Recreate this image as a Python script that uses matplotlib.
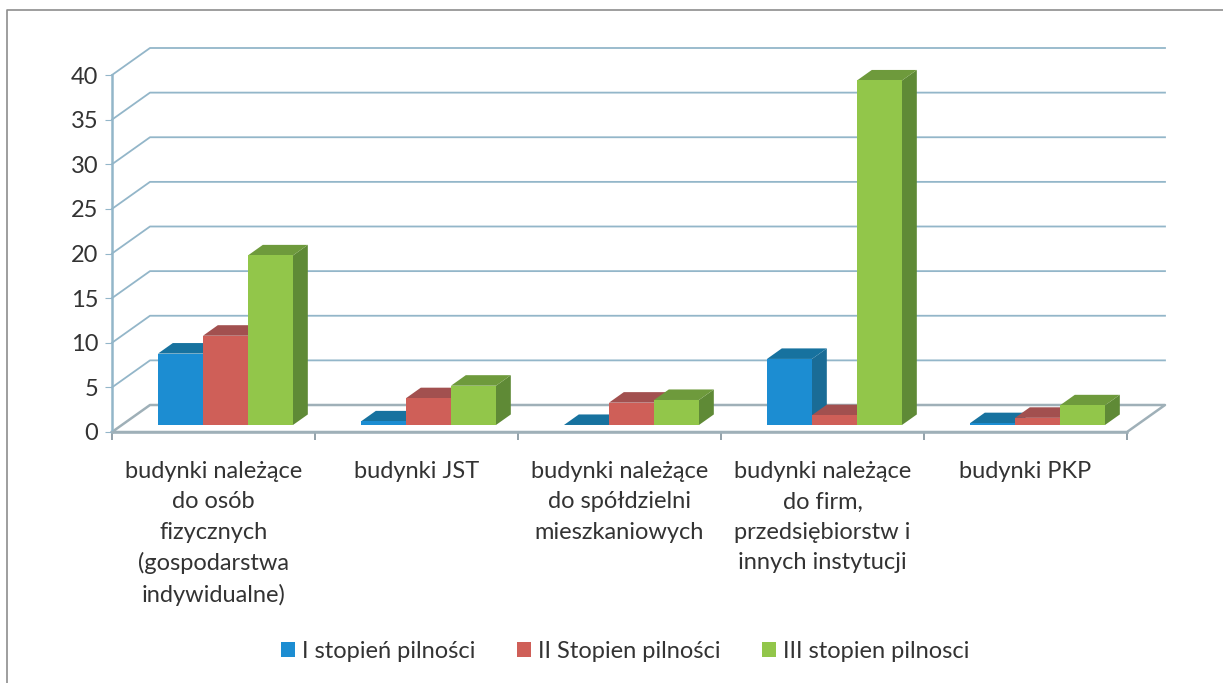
import matplotlib
matplotlib.use("Agg")
import matplotlib.pyplot as plt
from matplotlib.patches import Patch
from matplotlib.lines import Line2D

plt.rcParams['font.family'] = ['Lato', 'DejaVu Sans']

# dane
categories = ["budynki należące\ndo osób\nfizycznych\n(gospodarstwa\nindywidualne)",
              "budynki JST",
              "budynki należące\ndo spółdzielni\nmieszkaniowych",
              "budynki należące\ndo firm,\nprzedsiębiorstw i\ninnych instytucji",
              "budynki PKP"]
series_names = ["I stopień pilności", "II Stopien pilności", "III stopien pilnosci"]
stopien_1 = [8, 0.4, 0, 7.4, 0.2]
stopien_2 = [10, 3, 2.5, 1.1, 0.8]
stopien_3 = [19, 4.4, 2.8, 38.6, 2.2]
y_ticks = [0, 5, 10, 15, 20, 25, 30, 35, 40]

series = [stopien_1, stopien_2, stopien_3]
front = ['#1c8dd2', '#cf5f58', '#92c64a']
top = ['#17729f', '#a2504f', '#6e9a3c']
side = ['#1a6c96', '#8e4644', '#5f8a36']
grid_c = '#93b6c9'
floor_c = '#9fb0b8'

W, H = 1223, 683
fig = plt.figure(figsize=(W / 100, H / 100), dpi=100, facecolor='white')
ax = fig.add_axes([112 / W, (H - 432) / H, 1015 / W, 357 / H])
ax.set_xlim(0, 5)
ax.set_ylim(0, 40)
ax.patch.set_visible(False)

# ukosna glebia wykresu
DX = 38 / 203
DY = 27 / 8.925
BAR_W = 45 / 203
D_FRONT, D_BACK = 0.26, 0.65

# siatka tylnej sciany
for v in y_ticks[1:]:
    ax.plot([0, DX, 5 + DX], [v, v + DY, v + DY], color=grid_c, lw=1.3,
            clip_on=False, zorder=1)

# podloga
ax.plot([0, DX, 5 + DX, 5, 0], [0, DY, DY, 0, 0], color=floor_c, lw=1.8,
        clip_on=False, zorder=1)

# slupki
for i in range(len(categories)):
    x0 = i + 0.5 + 12 / 203 - 1.5 * BAR_W
    for j, vals in enumerate(series):
        h = vals[i]
        xl = x0 + j * BAR_W
        xr = xl + BAR_W
        yb = D_FRONT * DY
        yt = yb + h
        ddx = (D_BACK - D_FRONT) * DX
        ddy = (D_BACK - D_FRONT) * DY
        z = 3 + i * 3 + j
        ax.fill([xr, xr + ddx, xr + ddx, xr], [yb, yb + ddy, yt + ddy, yt],
                color=side[j], lw=0, clip_on=False, zorder=z)
        ax.fill([xl, xl + ddx, xr + ddx, xr], [yt, yt + ddy, yt + ddy, yt],
                color=top[j], lw=0, clip_on=False, zorder=z)
        ax.bar(xl + BAR_W / 2, h, BAR_W, bottom=yb, color=front[j], lw=0,
               clip_on=False, zorder=z)

# osie
for s in ['top', 'right']:
    ax.spines[s].set_visible(False)
ax.spines['left'].set_color(grid_c)
ax.spines['left'].set_linewidth(1.8)
ax.spines['bottom'].set_color(floor_c)
ax.spines['bottom'].set_linewidth(1.8)
ax.set_yticks(y_ticks)
ax.tick_params(axis='y', labelsize=17, length=5, color=grid_c, labelcolor='#333333', pad=5)
ax.set_xticks(range(6))
ax.set_xticklabels([])
ax.tick_params(axis='x', which='major', length=6, width=1.3, color='#8a9aa2')
ax.set_xticks([i + 0.5 for i in range(5)], minor=True)
ax.set_xticklabels(categories, minor=True, fontsize=17, color='#333333', linespacing=1.54)
ax.tick_params(axis='x', which='minor', length=0, pad=21)

# legenda
handles = [Patch(facecolor=c, label=n) for c, n in zip(front, series_names)]
fig.legend(handles=handles, loc='center', bbox_to_anchor=(625 / W, (H - 651) / H), ncol=3,
           frameon=False, fontsize=17, labelcolor='#333333', handlelength=0.6, handleheight=0.6,
           handletextpad=0.3, columnspacing=1.75)

# ramka
fig.add_artist(Line2D([7 / W, 7 / W, 1], [0, (H - 10) / H, (H - 10) / H], color='#8d8d8d', lw=1.2))

fig.savefig("out.png", dpi=100)
